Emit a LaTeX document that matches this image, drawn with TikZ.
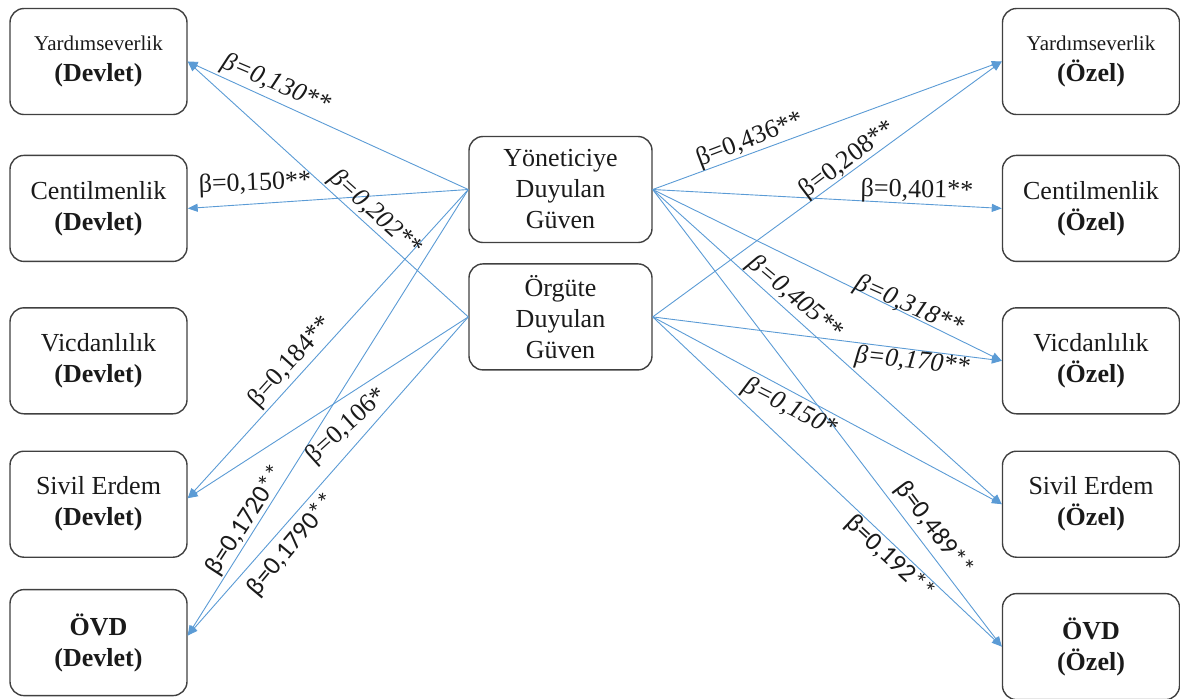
\documentclass[tikz,border=0pt]{standalone}
\usepackage{fontspec}
\setmainfont{Liberation Serif}
\newfontfamily\carlito{Carlito}
\usetikzlibrary{positioning, arrows.meta}
\definecolor{borderBox}{HTML}{404040}
\definecolor{arrowBlue}{HTML}{5B9BD5}
\definecolor{textMain}{HTML}{1A1A1A}
\tikzset{
  varbox/.style={
    draw=borderBox, rounded corners=7pt,
    minimum width=88.5pt, minimum height=53pt, inner sep=0pt,
    font=\fontsize{13}{15.5}\selectfont, text=textMain, line width=0.7pt, align=center,
  },
  centerbox/.style={
    varbox, minimum width=91.5pt,
  },
  patharrow/.style={
    -{Triangle[length=5pt, width=4pt]}, line width=0.45pt, color=arrowBlue,
  },
  betalabel/.style={
    font=\fontsize{13}{15.5}\selectfont, text=textMain, inner sep=0pt,
  },
  betaitalic/.style={
    betalabel, font=\fontsize{13}{15.5}\selectfont\itshape,
  },
  betasans/.style={
    betalabel, font=\fontsize{13}{15.5}\selectfont\carlito,
  },
}
\newcommand{\smallword}[1]{{\fontsize{10.5}{15.5}\selectfont #1}}

\begin{document}
\begin{tikzpicture}[x=0.5pt, y=-0.5pt]
  \useasboundingbox (0,0) rectangle (1180,698);

  % === Devlet (left column) ===
  \node[varbox] (yardD) at (98.5,61.5) {\smallword{Yardımseverlik}\\\textbf{(Devlet)}};
  \node[varbox, below=19.75pt of yardD] (centD) {Centilmenlik\\\textbf{(Devlet)}};
  \node[varbox, below=22.5pt of centD] (vicdD) {Vicdanlılık\\\textbf{(Devlet)}};
  \node[varbox, below=18pt of vicdD] (sivilD) {Sivil Erdem\\\textbf{(Devlet)}};
  \node[varbox, below=15.5pt of sivilD] (ovdD) {\textbf{ÖVD}\\\textbf{(Devlet)}};

  % === Guven (middle) ===
  \node[centerbox] (yon) at (560.5,189.5) {Yöneticiye\\Duyulan\\Güven};
  \node[centerbox, below=10pt of yon] (org) {Örgüte\\Duyulan\\Güven};

  % === Ozel (right column) ===
  \node[varbox] (yardO) at (1091,61.5) {\smallword{Yardımseverlik}\\\textbf{(Özel)}};
  \node[varbox, below=19.75pt of yardO] (centO) {Centilmenlik\\\textbf{(Özel)}};
  \node[varbox, below=22.5pt of centO] (vicdO) {Vicdanlılık\\\textbf{(Özel)}};
  \node[varbox, below=18pt of vicdO] (sivilO) {Sivil Erdem\\\textbf{(Özel)}};
  \node[varbox, below=17.5pt of sivilO] (ovdO) {\textbf{ÖVD}\\\textbf{(Özel)}};

  % === Arrows to the left ===
  \draw[patharrow] (yon.west) -- (yardD.east);
  \draw[patharrow] (org.west) -- (yardD.east);
  \draw[patharrow] (yon.west) -- (centD.east);
  \draw[patharrow] (yon.west) -- ([yshift=3pt]sivilD.east);
  \draw[patharrow] (org.west) -- ([yshift=3pt]sivilD.east);
  \draw[patharrow] (yon.west) -- ([yshift=3.5pt]ovdD.east);
  \draw[patharrow] (org.west) -- ([yshift=3.5pt]ovdD.east);

  % === Arrows to the right ===
  \draw[patharrow] (yon.east) -- (yardO.west);
  \draw[patharrow] (org.east) -- (yardO.west);
  \draw[patharrow] (yon.east) -- (centO.west);
  \draw[patharrow] (yon.east) -- (vicdO.west);
  \draw[patharrow] (org.east) -- (vicdO.west);
  \draw[patharrow] (yon.east) -- (sivilO.west);
  \draw[patharrow] (org.east) -- (sivilO.west);
  \draw[patharrow] (yon.east) -- (ovdO.west);
  \draw[patharrow] (org.east) -- (ovdO.west);

  % === Beta labels, left ===
  \node[betaitalic, rotate=-23] (b130) at (276,84) {β=0,130**};
  \node[betalabel, rotate=2] (b150l) at (255,184) {β=0,150**};
  \node[betaitalic, rotate=-42] (b202) at (375,213) {β=0,202**};
  \node[betalabel, rotate=48] (b184) at (291,362) {β=0,184**};
  \node[betalabel, rotate=42] (b106) at (347,426) {β=0,106*};
  \node[betasans, rotate=57] (b1720) at (246,520) {β=0,1720**};
  \node[betasans, rotate=50] (b1790) at (292,545) {β=0,1790**};

  % === Beta labels, right ===
  \node[betalabel, rotate=21] (b436) at (750,140) {β=0,436**};
  \node[betalabel, rotate=37] (b208) at (848,160) {β=0,208**};
  \node[betalabel, rotate=-1] (b401) at (917,191) {β=0,401**};
  \node[betaitalic, rotate=-24] (b318) at (909,306) {β=0,318**};
  \node[betaitalic, rotate=-40] (b405) at (795,298) {β=0,405**};
  \node[betaitalic, rotate=-6] (b170) at (912,362) {β=0,170**};
  \node[betaitalic, rotate=-27] (b150r) at (790,408) {β=0,150*};
  \node[betasans, rotate=-53] (b489) at (934,529) {β=0,489**};
  \node[betasans, rotate=-43] (b192) at (890,558) {β=0,192**};

\end{tikzpicture}
\end{document}
